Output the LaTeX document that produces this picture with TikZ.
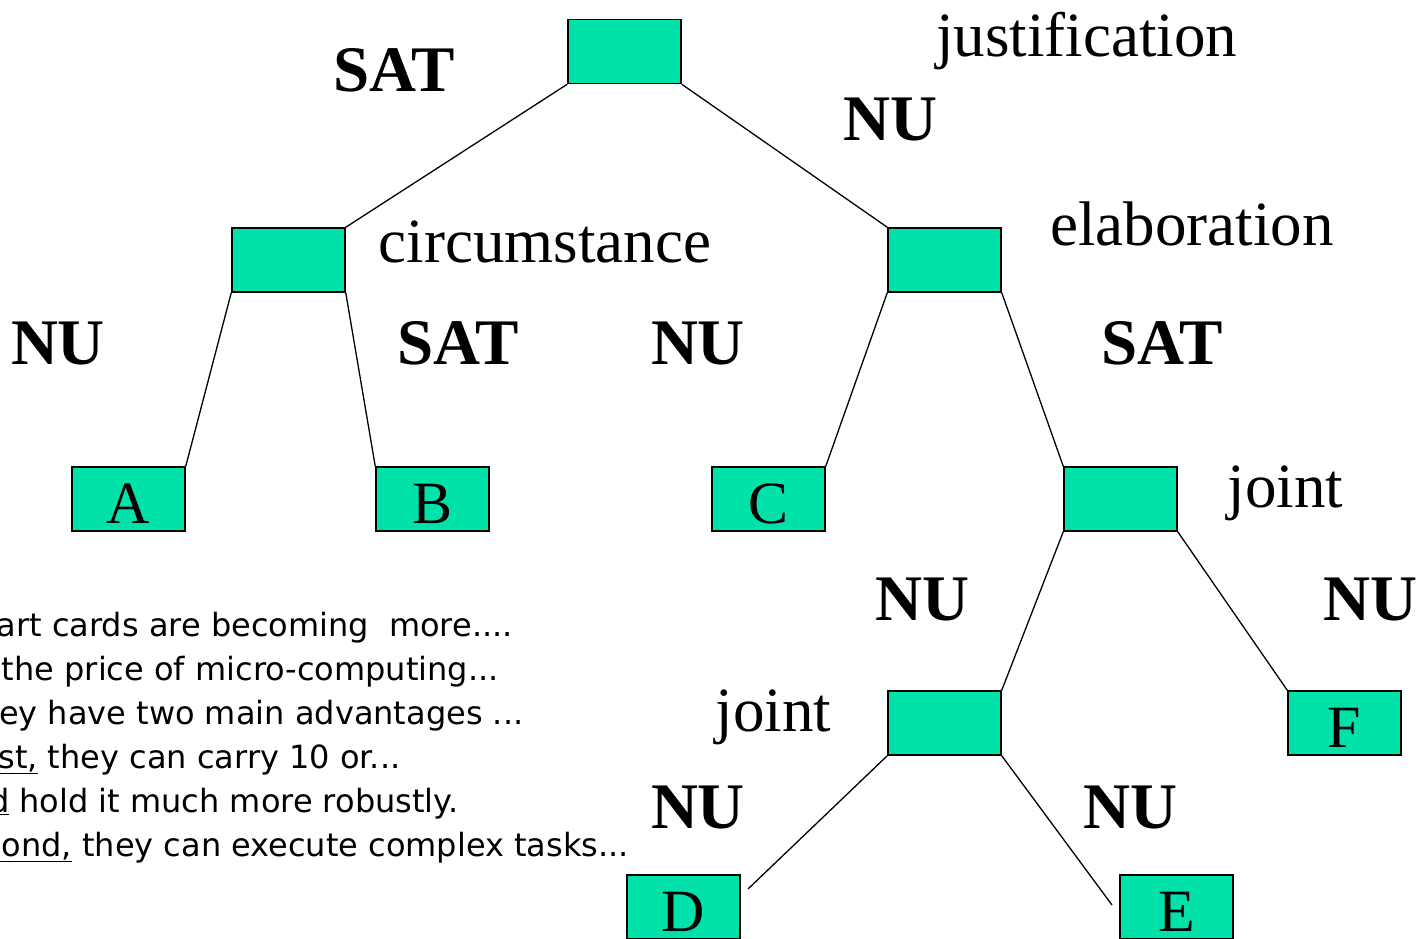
\documentclass[tikz,border=0pt]{standalone}
\usepackage{fontspec}
\setmainfont{Liberation Serif}
\newfontfamily\slidefont{DejaVu Sans}
\definecolor{boxgreen}{RGB}{0,226,170}

\begin{document}
\begin{tikzpicture}
  [x=1pt,y=-1pt,
   box/.style={draw,fill=boxgreen,line width=1.5pt,minimum width=113pt,minimum height=64pt,
     inner sep=0pt,text height=48pt,text depth=0pt,font=\fontsize{60}{60}\selectfont},
   rel/.style={anchor=base,inner sep=0pt,font=\fontsize{63}{63}\selectfont},
   nuc/.style={anchor=base,inner sep=0pt,font=\fontsize{65}{65}\selectfont\bfseries},
   line/.style={anchor=base west,inner sep=0pt,font=\slidefont\fontsize{32}{32}\selectfont}]
  \clip (0,0) rectangle (1418,939);
  \useasboundingbox (0,0) rectangle (1418,939);

  % tree boxes
  \node[box] (T_R)  at (624.5,51.5) {};
  \node[box] (T_Ci) at (288.5,260)  {};
  \node[box] (T_El) at (944.5,260)  {};
  \node[box] (T_A)  at (128.5,499)  {A};
  \node[box] (T_B)  at (432.5,499)  {B};
  \node[box] (T_C)  at (768.5,499)  {C};
  \node[box] (T_J1) at (1120.5,499) {};
  \node[box] (T_J2) at (944.5,723)  {};
  \node[box] (T_F)  at (1344.5,723) {F};
  \node[box] (T_D)  at (683.5,907)  {D};
  \node[box] (T_E)  at (1176.5,907) {E};
  \coordinate (D_end) at (748,889);
  \coordinate (E_end) at (1112,905);

  \foreach \from/\to in {T_R.south west/T_Ci.north east,T_R.south east/T_El.north west,
      T_Ci.south west/T_A.north east,T_Ci.south east/T_B.north west,
      T_El.south west/T_C.north east,T_El.south east/T_J1.north west,
      T_J1.south west/T_J2.north east,T_J1.south east/T_F.north west,
      T_J2.south west/D_end,T_J2.south east/E_end}
    \draw[line width=1.3pt] (\from) -- (\to);

  % relation names
  \node[rel] (L_just)  at (1086.5,57) {justification};
  \node[rel] (L_circ)  at (545,262)   {circumstance};
  \node[rel] (L_elab)  at (1192,245)  {elaboration};
  \node[rel] (L_joint) at (1285.5,507) {joint};
  \node[rel] (L_jnt2)  at (773.5,731) {joint};

  % nuclearity
  \node[nuc] (S_1) at (394,92)   {SAT};
  \node[nuc] (N_1) at (890,140)  {NU};
  \node[nuc] (N_2) at (58,364)   {NU};
  \node[nuc] (S_2) at (458,364)  {SAT};
  \node[nuc] (N_3) at (698,364)  {NU};
  \node[nuc] (S_3) at (1162,364) {SAT};
  \node[nuc] (N_4) at (922,620)  {NU};
  \node[nuc] (N_5) at (1370,620) {NU};
  \node[nuc] (N_6) at (698,828)  {NU};
  \node[nuc] (N_7) at (1130,828) {NU};

  % text (cut at the left edge)
  \node[line] (X_1) at (-55,636) {Smart cards are becoming\ \ more....};
  \node[line] (X_2) at (-47,680) {As the price of micro-computing...};
  \node[line] (X_3) at (-41,724) {They have two main advantages ...};
  \node[line] (X_4) at (-40,768) {\underline{First,} they can carry 10 or...};
  \node[line] (X_5) at (-51,812) {\underline{and} hold it much more robustly.};
  \node[line] (X_6) at (-56,856) {\underline{Second,} they can execute complex tasks...};
\end{tikzpicture}
\end{document}
